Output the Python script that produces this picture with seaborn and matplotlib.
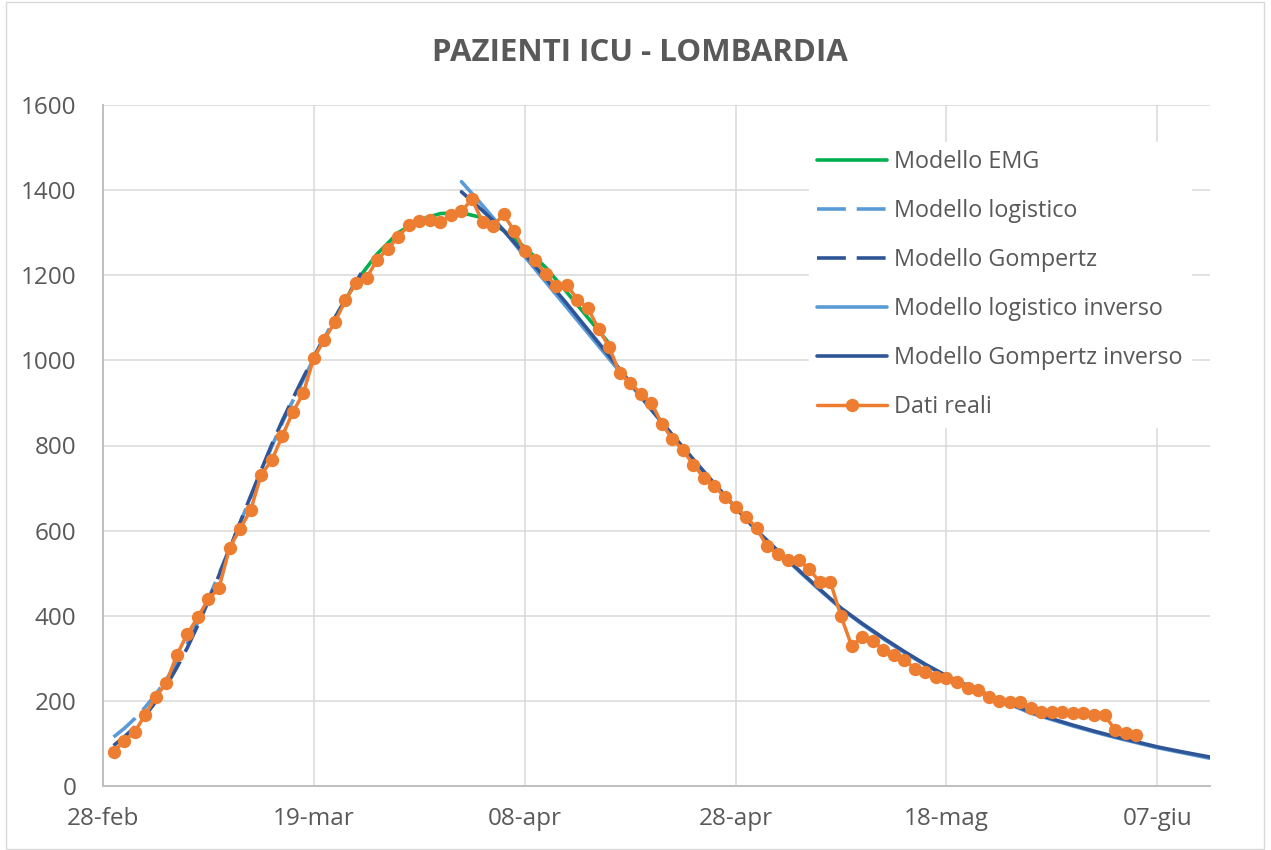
import matplotlib
matplotlib.use("Agg")
import numpy as np
import pandas as pd
import matplotlib.pyplot as plt
import seaborn as sns
from matplotlib.patches import Rectangle

sns.set_theme(style="whitegrid")
plt.rcParams['font.family'] = ['Open Sans', 'DejaVu Sans']

# days counted from 28-feb (day 0)
tick_days = [0, 20, 40, 60, 80, 100]
tick_labels = ["28-feb", "19-mar", "08-apr", "28-apr", "18-mag", "07-giu"]

# Dati reali: one value per day, from 29-feb (day 1) to 05-giu (day 98)
real_days = list(range(1, 99))
real_values = [80, 106, 127, 167, 209, 242, 308, 357, 397, 439,
               465, 559, 604, 648, 731, 765, 822, 878, 923, 1006,
               1049, 1090, 1142, 1182, 1194, 1236, 1262, 1290, 1318, 1328,
               1330, 1324, 1342, 1350, 1379, 1325, 1316, 1343, 1304, 1257,
               1235, 1202, 1174, 1177, 1143, 1122, 1074, 1032, 970, 947,
               922, 901, 851, 816, 789, 755, 724, 704, 679, 656,
               633, 605, 563, 545, 531, 531, 509, 479, 479, 399,
               330, 349, 341, 320, 308, 296, 276, 268, 255, 253,
               244, 230, 226, 209, 200, 197, 197, 183, 174, 173,
               173, 172, 171, 167, 166, 132, 125, 120]

# rising models (fitted on the growth phase)
logi_days = [1, 2, 3, 4, 5, 6, 7, 8, 9, 10, 11, 12, 13, 14, 15, 16, 17, 18, 19, 20, 21, 22, 23, 24, 24.5]
logi_values = [115, 135, 158, 185, 215, 250, 290, 335, 385, 440, 498, 558, 618, 678, 738,
               797, 853, 905, 955, 1005, 1053, 1099, 1143, 1183, 1200]
gomp_days = [1, 2, 3, 4, 5, 6, 7, 8, 9, 10, 11, 12, 13, 14, 15, 16, 17, 18, 19, 20, 21, 22, 23, 24, 24.5]
gomp_values = [95, 115, 138, 165, 198, 235, 278, 325, 378, 435, 495, 557, 619, 681, 742,
               802, 858, 910, 960, 1008, 1055, 1100, 1143, 1185, 1205]

# EMG model around the peak
emg_days = [22, 24, 26, 28, 30, 32, 34, 36, 38, 40, 42, 44, 46, 48]
emg_values = [1100, 1185, 1250, 1300, 1330, 1345, 1347, 1335, 1305, 1266, 1218, 1160, 1100, 1040]

# inverse models (fitted on the decline)
inv_days = [34, 36, 38, 40, 42, 44, 46, 48, 50, 52, 54, 56, 58, 60, 62, 64, 66, 68, 70,
            72, 74, 76, 78, 80, 82, 84, 86, 88, 90, 92, 94, 96, 98, 100, 102, 105]
logi_inv_values = [1420, 1364, 1306, 1244, 1184, 1124, 1064, 1004, 944, 884, 825, 767, 710,
                   654, 600, 552, 505, 460, 417, 380, 346, 314, 284, 257, 234, 212, 192, 171,
                   156, 141, 127, 114, 102, 90, 80, 65]
gomp_inv_values = [1396, 1352, 1305, 1250, 1192, 1133, 1072, 1011, 948, 885, 825, 767, 710,
                   654, 600, 553, 507, 462, 418, 382, 348, 316, 286, 259, 236, 214, 194, 174,
                   158, 143, 129, 116, 104, 92, 82, 68]

GREEN = "#00B050"
LIGHT = "#5B9BD5"
DARK = "#2F5597"
ORANGE = "#ED7D31"
TEXT = "#595959"

fig = plt.figure(figsize=(12.71, 8.5), dpi=100)
ax = fig.add_axes([103 / 1271, 1 - 786 / 850, 1107 / 1271, 681 / 850])

lw = 2.6
sns.lineplot(x=emg_days, y=emg_values, ax=ax, color=GREEN, linewidth=lw, label="Modello EMG")
sns.lineplot(x=logi_days, y=logi_values, ax=ax, color=LIGHT, linewidth=lw,
             linestyle=(0, (8, 3)), label="Modello logistico")
sns.lineplot(x=gomp_days, y=gomp_values, ax=ax, color=DARK, linewidth=lw,
             linestyle=(0, (8, 3)), label="Modello Gompertz")
sns.lineplot(x=inv_days, y=logi_inv_values, ax=ax, color=LIGHT, linewidth=lw,
             label="Modello logistico inverso")
sns.lineplot(x=inv_days, y=gomp_inv_values, ax=ax, color=DARK, linewidth=lw,
             label="Modello Gompertz inverso")
sns.lineplot(x=real_days, y=real_values, ax=ax, color=ORANGE, linewidth=2.5,
             marker="o", markersize=9.6, markeredgewidth=0, label="Dati reali")

ax.set_xlim(0, 105)
ax.set_ylim(0, 1600)
ax.set_xticks(tick_days)
ax.set_xticklabels(tick_labels)
ax.set_yticks(range(0, 1601, 200))
ax.set_xlabel("")
ax.set_ylabel("")
ax.set_facecolor("white")
ax.grid(True, color="#D9D9D9", linewidth=1.1)
for side in ["top", "right"]:
    ax.spines[side].set_visible(False)
for side in ["left", "bottom"]:
    ax.spines[side].set_visible(True)
    ax.spines[side].set_color("#BFBFBF")
    ax.spines[side].set_linewidth(1.4)
ax.tick_params(axis="y", length=0, pad=19, labelsize=17.5, labelcolor=TEXT)
ax.tick_params(axis="x", length=0, pad=15, labelsize=17.5, labelcolor=TEXT)

leg = ax.legend(loc="upper left", bbox_to_anchor=(0.6377, 0.946), fontsize=16.8,
                frameon=True, facecolor="white", edgecolor="white", framealpha=1,
                fancybox=False, handlelength=3.0, handletextpad=0.3,
                labelspacing=1.07, borderpad=0.35, borderaxespad=0)
for t in leg.get_texts():
    t.set_color(TEXT)
leg.set_zorder(10)

fig.text(640 / 1271, 1 - 53 / 850, "PAZIENTI ICU - LOMBARDIA", ha="center", va="center",
         fontsize=22.5, fontweight="bold", color=TEXT)

fig.patches.append(Rectangle((6 / 1271, 1 / 850), 1258 / 1271, 847 / 850,
                             transform=fig.transFigure, fill=False,
                             edgecolor="#D9D9D9", linewidth=1))

fig.savefig("out.png", dpi=100, facecolor="white")
